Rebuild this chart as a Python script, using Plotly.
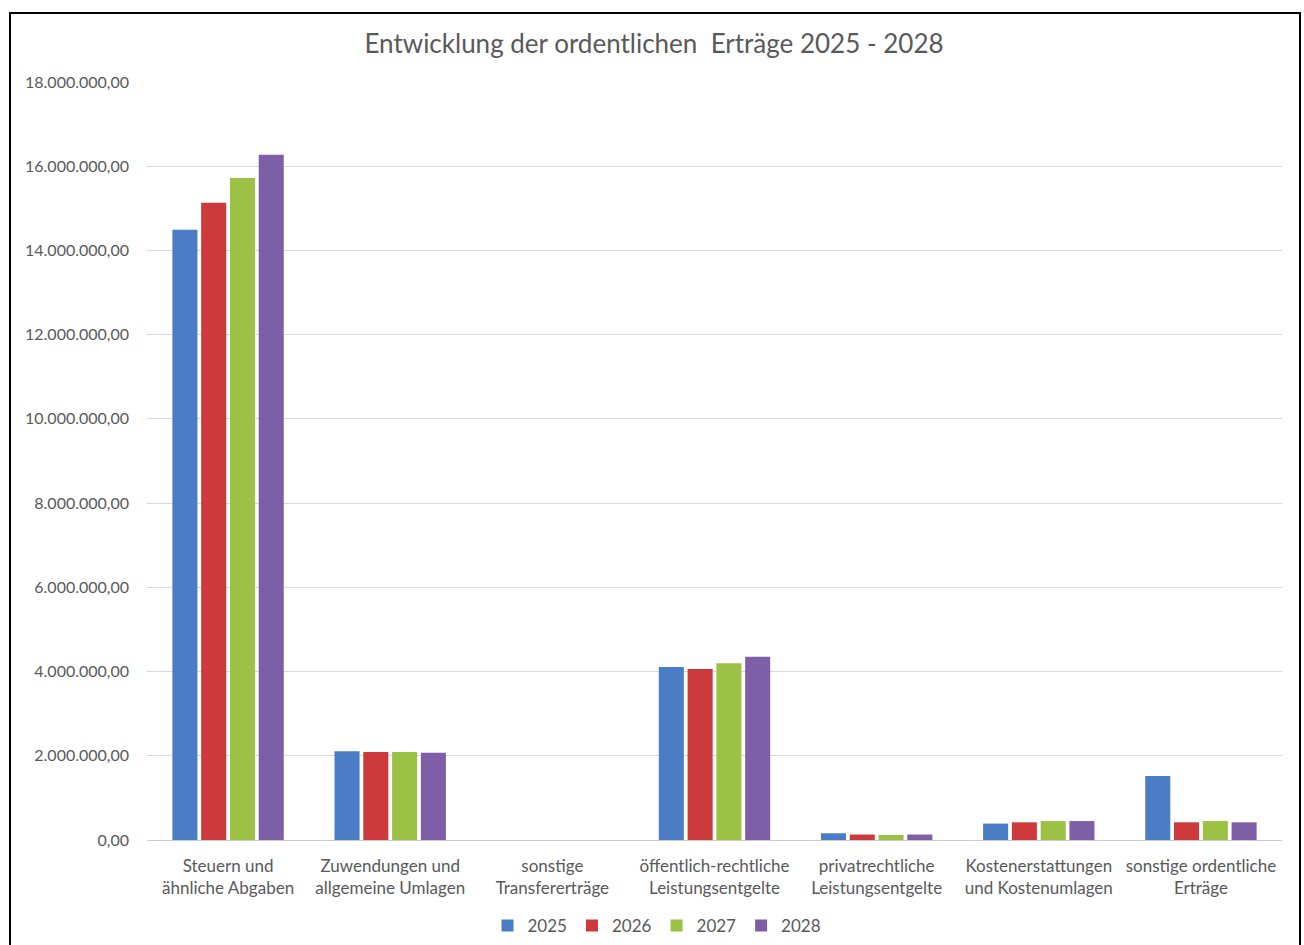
import plotly.graph_objects as go

categories = [
    "Steuern und<br>ähnliche Abgaben",
    "Zuwendungen und<br>allgemeine Umlagen",
    "sonstige<br>Transfererträge",
    "öffentlich-rechtliche<br>Leistungsentgelte",
    "privatrechtliche<br>Leistungsentgelte",
    "Kostenerstattungen<br>und Kostenumlagen",
    "sonstige ordentliche<br>Erträge",
]
years = ["2025", "2026", "2027", "2028"]
v2025 = [14490000, 2110000, 0, 4110000, 160000, 390000, 1520000]
v2026 = [15130000, 2090000, 0, 4060000, 130000, 420000, 420000]
v2027 = [15720000, 2090000, 0, 4200000, 120000, 450000, 450000]
v2028 = [16270000, 2070000, 0, 4350000, 130000, 450000, 420000]
colors = ["#4A7DC6", "#CE3A3C", "#9BC244", "#7F5EA8"]

FONT = "Lato, 'Open Sans', sans-serif"
GRAY = "#595959"

fig = go.Figure()
for name, vals, col in zip(years, [v2025, v2026, v2027, v2028], colors):
    fig.add_trace(go.Bar(name=name, x=categories, y=vals, marker_color=col,
                         marker_line_width=0))

W, H = 1304, 945
L, R, T, B = 147, 22, 82, 105
pw, ph = W - L - R, H - T - B

def px_to_paper_x(px):
    return (px - L) / pw

def px_to_paper_y(py):
    return (H - B - py) / ph

fig.update_layout(
    width=W, height=H,
    margin=dict(l=L, r=R, t=T, b=B, autoexpand=False),
    paper_bgcolor="white", plot_bgcolor="white",
    separators=",.",
    font=dict(family=FONT, color=GRAY, size=14),
    title=dict(text="Entwicklung der ordentlichen  Erträge 2025 - 2028",
               x=px_to_paper_x(654), xref="paper", xanchor="center",
               y=1 - 44 / H, yanchor="middle",
               font=dict(family=FONT, size=26, color=GRAY)),
    barmode="group", bargap=0.29, bargroupgap=0.13,
    showlegend=True,
    legend=dict(orientation="h", x=px_to_paper_x(657), xanchor="center",
                y=px_to_paper_y(926), yanchor="middle",
                font=dict(family=FONT, size=17, color=GRAY),
                itemwidth=30, tracegroupgap=0),
    xaxis=dict(tickfont=dict(family=FONT, size=17, color=GRAY),
               showgrid=False, showline=False, ticks="",
               ticklabelstandoff=14, automargin=False),
    yaxis=dict(range=[0, 18000000], dtick=2000000, tickformat=",.2f",
               tickfont=dict(family=FONT, size=16, color=GRAY),
               gridcolor="#d9d9d9", gridwidth=1,
               zeroline=True, zerolinecolor="#cccccc", zerolinewidth=1,
               showline=False, ticks="", ticklabelstandoff=17,
               automargin=False),
    shapes=[dict(type="rect", xref="paper", yref="paper",
                 x0=px_to_paper_x(10), x1=px_to_paper_x(1300),
                 y0=px_to_paper_y(960), y1=px_to_paper_y(13),
                 line=dict(color="black", width=2), fillcolor="rgba(0,0,0,0)",
                 layer="above")],
)

fig.write_html(
    "out.html",
    config={"displayModeBar": False},
    post_script="document.body.style.margin='0';document.body.style.overflow='hidden';",
)
